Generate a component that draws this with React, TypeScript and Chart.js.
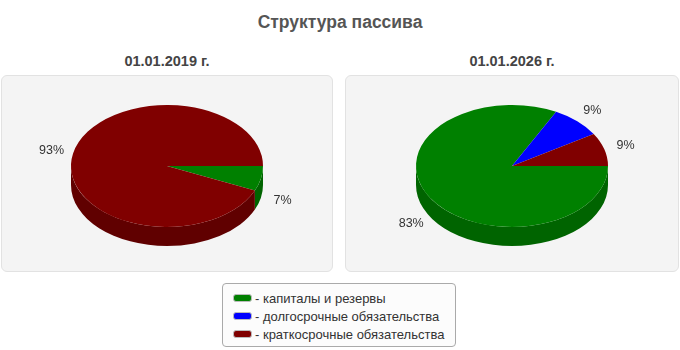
import React, { useEffect, useRef } from "react";
import { Chart, registerables } from "chart.js";

Chart.register(...registerables);

const chartTitle = "Структура пассива";
const categories = ["капиталы и резервы", "долгосрочные обязательства", "краткосрочные обязательства"];
const topColors = ["#008000", "#0000ff", "#800000"];
const sideColors = ["#006400", "#0000b0", "#600000"];
const panelDates = ["01.01.2019 г.", "01.01.2026 г."];
const values2019 = [6.6, 0, 93.4];
const values2026 = [82.6, 8.6, 8.8];

const DEPTH = 19;
const TILT = 61 / 96;
const RADIUS = 96;

const pie3d = {
  id: "pie3d",
  beforeDatasetsDraw(chart: any) {
    const ctx = chart.ctx;
    const meta = chart.getDatasetMeta(0);
    let cx = 0, cy = 0;
    meta.data.forEach((arc: any, i: number) => {
      const p = arc.getProps(["x", "y", "startAngle", "endAngle", "outerRadius"], true);
      cx = p.x; cy = p.y;
      const s = Math.max(p.startAngle, 0);
      const e = Math.min(p.endAngle, Math.PI);
      if (e <= s) return;
      const r = p.outerRadius;
      ctx.save();
      ctx.beginPath();
      ctx.ellipse(p.x, p.y, r, r * TILT, 0, s, e, false);
      ctx.ellipse(p.x, p.y + DEPTH, r, r * TILT, 0, e, s, true);
      ctx.closePath();
      ctx.fillStyle = sideColors[i];
      ctx.fill();
      ctx.restore();
    });
    if (meta.data.length) {
      const p = meta.data[0].getProps(["x", "y"], true);
      cx = p.x; cy = p.y;
    }
    ctx.save();
    ctx.translate(0, cy);
    ctx.scale(1, TILT);
    ctx.translate(0, -cy);
  },
  afterDatasetsDraw(chart: any) {
    const ctx = chart.ctx;
    ctx.restore();
    const meta = chart.getDatasetMeta(0);
    const data = chart.data.datasets[0].data as number[];
    const total = data.reduce((a: number, b: number) => a + b, 0);
    ctx.save();
    ctx.font = "12.5px 'Liberation Sans', Arial, sans-serif";
    ctx.fillStyle = "#333";
    ctx.textAlign = "center";
    ctx.textBaseline = "middle";
    meta.data.forEach((arc: any, i: number) => {
      const v = data[i];
      if (!v) return;
      const p = arc.getProps(["x", "y", "startAngle", "endAngle", "outerRadius"], true);
      const mid = (p.startAngle + p.endAngle) / 2;
      const R = p.outerRadius + 22;
      const sn = Math.sin(mid);
      const lx = p.x + Math.cos(mid) * R;
      const ly = p.y + sn * R * TILT + (sn > 0 ? DEPTH : 0);
      ctx.fillText(Math.round((v / total) * 100) + "%", lx, ly);
    });
    ctx.restore();
  },
};

function PiePanel({ values, left, width }: { values: number[]; left: number; width: number }) {
  const ref = useRef<HTMLCanvasElement>(null);
  useEffect(() => {
    if (!ref.current) return;
    const chart = new Chart(ref.current, {
      type: "pie",
      data: {
        labels: categories,
        datasets: [
          {
            data: values,
            backgroundColor: topColors,
            borderWidth: 0,
            hoverOffset: 0,
            radius: RADIUS,
          } as any,
        ],
      },
      options: {
        responsive: false,
        maintainAspectRatio: false,
        animation: false,
        events: [],
        rotation: 90,
        layout: { padding: { top: 0, bottom: 15, left: 0, right: 0 } },
        plugins: {
          legend: { display: false },
          tooltip: { enabled: false },
          title: { display: false },
        },
      },
      plugins: [pie3d],
    });
    return () => chart.destroy();
  }, []);
  return (
    <>
      <div
        style={{
          position: "absolute",
          left,
          top: 75,
          width: width - 2,
          height: 195,
          background: "#f4f4f4",
          border: "1px solid #e2e2e2",
          borderRadius: 6,
        }}
      />
      <canvas
        ref={ref}
        width={width}
        height={197}
        style={{ position: "absolute", left, top: 75, width, height: 197, display: "block" }}
      />
    </>
  );
}

export default function App() {
  const textBase: React.CSSProperties = {
    position: "absolute",
    fontFamily: "'Liberation Sans', Arial, sans-serif",
    whiteSpace: "nowrap",
  };
  return (
    <div style={{ position: "absolute", left: 0, top: 0, width: 680, height: 350, background: "#fff", overflow: "hidden" }}>
      <div style={{ ...textBase, left: 0, width: 680, top: 12, lineHeight: "20px", textAlign: "center", fontWeight: "bold", fontSize: 17.5, color: "#555" }}>
        {chartTitle}
      </div>
      <div style={{ ...textBase, left: 1, width: 332, top: 52, lineHeight: "18px", textAlign: "center", fontWeight: "bold", fontSize: 14.5, color: "#444" }}>
        {panelDates[0]}
      </div>
      <div style={{ ...textBase, left: 345, width: 334, top: 52, lineHeight: "18px", textAlign: "center", fontWeight: "bold", fontSize: 14.5, color: "#444" }}>
        {panelDates[1]}
      </div>
      <PiePanel values={values2019} left={1} width={332} />
      <PiePanel values={values2026} left={345} width={334} />
      <div
        style={{
          position: "absolute",
          left: 222,
          top: 283,
          width: 232,
          height: 62,
          border: "1px solid #aaa",
          borderRadius: 4,
          background: "#fcfcfc",
        }}
      >
        {categories.map((c, i) => (
          <div key={c} style={{ position: "absolute", left: 10, top: 5 + i * 18, height: 18, display: "flex", alignItems: "center" }}>
            <div
              style={{
                width: 17,
                height: 6,
                background: topColors[i],
                border: "1px solid #bbb",
                borderRadius: 3,
                marginRight: 3,
              }}
            />
            <span style={{ fontFamily: "'Liberation Sans', Arial, sans-serif", fontSize: 13, color: "#333" }}>- {c}</span>
          </div>
        ))}
      </div>
    </div>
  );
}
